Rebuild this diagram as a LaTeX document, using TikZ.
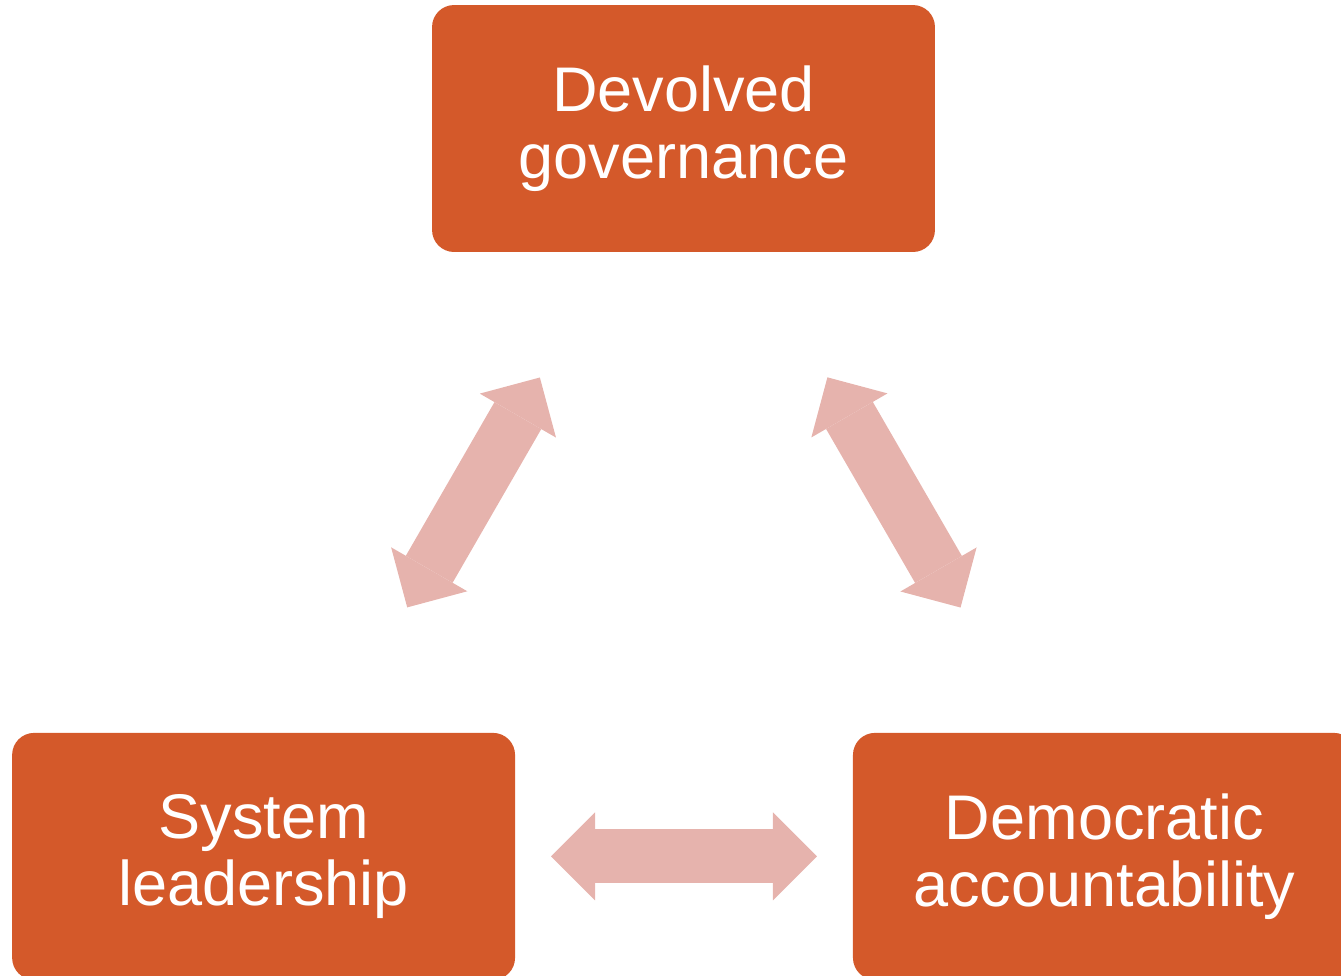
\documentclass[tikz,border=0pt]{standalone}
\usepackage{fontspec}
\setmainfont{Liberation Sans}
\usetikzlibrary{positioning,arrows.meta}

\definecolor{boxorange}{HTML}{D4592A}
\definecolor{linkpink}{HTML}{E6B3AD}

\tikzset{blockhead/.tip={Triangle[length=0.88cm, width=1.76cm, line width=0pt]}}

\begin{document}
\begin{tikzpicture}
 [x=0.02cm, y=-0.02cm,
  theme node/.style={rectangle, rounded corners=0.44cm, fill=boxorange, text=white,
    minimum width=10.06cm, minimum height=4.94cm, align=center,
    font=\fontsize{35.9pt}{38.1pt}\selectfont},
  link/.style={blockhead-blockhead, draw=linkpink, line width=1.08cm,
    shorten <=5.75cm, shorten >=5.75cm}]

\useasboundingbox (0,0) rectangle (1341,975);
\clip (0,0) rectangle (1341,975);

\node[theme node] (dev) at (683.5,128.5) {Devolved\\governance};
\node[theme node, on grid] (sys) [below left=14.56cm and 8.4cm of dev] {System\\leadership};
\node[theme node, on grid] (acc) [below right=14.56cm and 8.42cm of dev] {Democratic\\accountability};

% two-way links, centre to centre, cut back to the middle third
\draw[link] (dev.center) -- (sys.center);
\draw[link] (dev.center) -- (acc.center);
\draw[link] (sys.center) -- (acc.center);

\end{tikzpicture}
\end{document}
